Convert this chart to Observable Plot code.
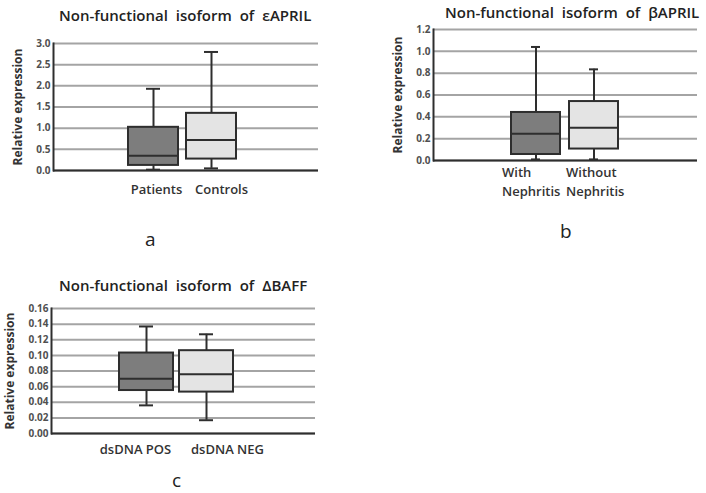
<!DOCTYPE html>
<html><head><meta charset="utf-8">
<script src="https://cdn.jsdelivr.net/npm/d3@7"></script>
<script src="https://cdn.jsdelivr.net/npm/@observablehq/plot@0.6"></script>
<style>
body{margin:0;background:#fff;width:706px;height:493px;position:relative;overflow:hidden;font-family:"Open Sans",sans-serif;}
.panel{position:absolute;}
.title{position:absolute;font-size:15px;font-weight:600;color:#222;white-space:nowrap;word-spacing:4px;line-height:20px}
.letter{position:absolute;font-size:19px;font-weight:500;color:#222;line-height:20px}
</style></head><body>
<div class="title" style="left:59px;top:5px">Non-functional isoform of εAPRIL</div>
<div class="title" style="left:445px;top:2px">Non-functional isoform of βAPRIL</div>
<div class="title" style="left:59px;top:275px">Non-functional isoform of ΔBAFF</div>
<div class="letter" style="left:145px;top:229px">a</div>
<div class="letter" style="left:560px;top:221px">b</div>
<div class="letter" style="left:172px;top:470px">c</div>
<script>
// Panel a: εAPRIL
const catsA = ["Patients", "Controls"];
const minA = [0.02, 0.05];
const q1A = [0.12, 0.27];
const medA = [0.35, 0.72];
const q3A = [1.02, 1.35];
const maxA = [1.93, 2.80];
const ticksA = [0, 0.5, 1.0, 1.5, 2.0, 2.5, 3.0];

// Panel b: βAPRIL
const catsB = ["With\nNephritis", "Without\nNephritis"];
const minB = [0.01, 0.01];
const q1B = [0.055, 0.105];
const medB = [0.245, 0.30];
const q3B = [0.44, 0.54];
const maxB = [1.04, 0.835];
const ticksB = [0, 0.2, 0.4, 0.6, 0.8, 1.0, 1.2];

// Panel c: ΔBAFF
const catsC = ["dsDNA POS", "dsDNA NEG"];
const minC = [0.036, 0.017];
const q1C = [0.055, 0.053];
const medC = [0.070, 0.076];
const q3C = [0.103, 0.106];
const maxC = [0.137, 0.127];
const ticksC = [0, 0.02, 0.04, 0.06, 0.08, 0.10, 0.12, 0.14, 0.16];

const DARK = "#2e2e2e";
const FILLS = ["#7d7d7d", "#e4e4e4"];

function panel(cfg) {
  const rows = cfg.cats.map((c, i) => ({cat: c, min: cfg.min[i], q1: cfg.q1[i], med: cfg.med[i], q3: cfg.q3[i], max: cfg.max[i], i}));
  const labelMarks = rows.map((r, i) => Plot.text([r], {
    x: "cat", text: "cat", frameAnchor: "bottom", dy: cfg.labelDy, dx: cfg.labelDx[i],
    textAnchor: cfg.labelAnchor, fontSize: 13, fontWeight: 600, fill: "#333", lineHeight: 1.45
  }));
  const p = Plot.plot({
    width: cfg.width, height: cfg.height,
    marginLeft: cfg.ml, marginRight: cfg.mr, marginTop: cfg.mt, marginBottom: cfg.mb,
    style: {fontFamily: "Open Sans, sans-serif", background: "transparent", overflow: "visible"},
    x: {type: "band", domain: cfg.cats, range: cfg.xRange, padding: cfg.pad, axis: null},
    y: {domain: [cfg.ticks[0], cfg.ticks[cfg.ticks.length - 1]], axis: null},
    color: {domain: cfg.cats, range: FILLS},
    marks: [
      Plot.ruleY(cfg.ticks, {stroke: "#a4a4a4", strokeWidth: 2}),
      Plot.axisY({ticks: cfg.ticks, tickFormat: d3.format(cfg.fmt), tickSize: 0, tickPadding: 3,
        fontSize: 10, fontWeight: "bold", fill: "#505050", label: null}),
      Plot.ruleX(rows, {x: "cat", y1: "min", y2: "q1", stroke: DARK, strokeWidth: 2}),
      Plot.ruleX(rows, {x: "cat", y1: "q3", y2: "max", stroke: DARK, strokeWidth: 2}),
      Plot.tickY(rows, {x: "cat", y: "min", stroke: DARK, strokeWidth: 2, insetLeft: cfg.cap, insetRight: cfg.cap}),
      Plot.tickY(rows, {x: "cat", y: "max", stroke: DARK, strokeWidth: 2, insetLeft: cfg.cap, insetRight: cfg.cap}),
      Plot.barY(rows, {x: "cat", y1: "q1", y2: "q3", fill: "cat", stroke: DARK, strokeWidth: 2}),
      Plot.tickY(rows, {x: "cat", y: "med", stroke: DARK, strokeWidth: 2}),
      Plot.ruleY([cfg.ticks[0]], {stroke: DARK, strokeWidth: 2}),
      Plot.frame({anchor: "left", stroke: DARK, strokeWidth: 2}),
      Plot.text(["Relative expression"], {frameAnchor: "left", textAnchor: "middle", rotate: -90, dx: cfg.ylabDx,
        fontSize: 12, fontWeight: "bold", fill: "#333"}),
      ...labelMarks
    ]
  });
  const div = document.createElement("div");
  div.className = "panel";
  div.style.left = cfg.left + "px";
  div.style.top = cfg.top + "px";
  div.appendChild(p);
  document.body.appendChild(div);
}

panel({cats: catsA, min: minA, q1: q1A, med: medA, q3: q3A, max: maxA, ticks: ticksA, fmt: ".1f",
  left: 0, top: 0, width: 330, height: 215, ml: 53, mr: 12, mt: 43, mb: 45,
  xRange: [120, 245], pad: 0.13, cap: 18, ylabDx: -35, labelDy: 23, labelDx: [3, 10], labelAnchor: "middle"});

panel({cats: catsB, min: minB, q1: q1B, med: medB, q3: q3B, max: maxB, ticks: ticksB, fmt: ".1f",
  left: 370, top: 0, width: 336, height: 220, ml: 63, mr: 9, mt: 29, mb: 60,
  xRange: [132, 258], pad: 0.15, cap: 20, ylabDx: -35, labelDy: 35, labelDx: [-34, -28], labelAnchor: "start"});

panel({cats: catsC, min: minC, q1: q1C, med: medC, q3: q3C, max: maxC, ticks: ticksC, fmt: ".2f",
  left: 0, top: 260, width: 330, height: 233, ml: 51, mr: 15, mt: 48, mb: 60,
  xRange: [112, 240], pad: 0.1, cap: 20, ylabDx: -41, labelDy: 20, labelDx: [-11, 21], labelAnchor: "middle"});
</script>
</body></html>
